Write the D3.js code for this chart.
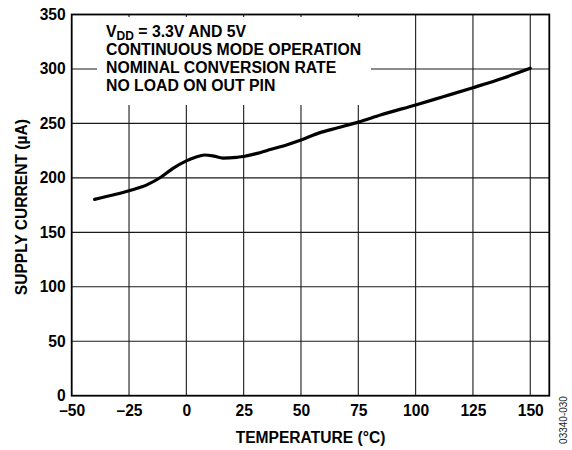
<!DOCTYPE html>
<html>
<head>
<meta charset="utf-8">
<script src="https://cdn.jsdelivr.net/npm/d3@7"></script>
<style>
  html, body { margin: 0; padding: 0; background: #fff; }
  svg { display: block; font-family: "Liberation Sans", Arial, sans-serif; }
</style>
</head>
<body>
<svg id="chart" width="572" height="450"></svg>
<script>
const temperatures = [-40, -32, -25, -17, -11, -6, 0, 4, 8, 12, 16, 22, 25, 30, 37, 44, 50, 58, 66, 75, 85, 100, 112, 125, 138, 150];
const supplyCurrent = [180.3, 184.3, 188.2, 193.8, 200.8, 208.5, 215.6, 219, 221, 220, 218.2, 218.9, 219.6, 222, 226.2, 230.5, 234.8, 241.3, 246, 251.2, 258, 266.9, 274.5, 282.8, 291.5, 300.6];
const xTickValues = [-50, -25, 0, 25, 50, 75, 100, 125, 150];
const yTickValues = [0, 50, 100, 150, 200, 250, 300, 350];
const annotationLines = ["CONTINUOUS MODE OPERATION", "NOMINAL CONVERSION RATE", "NO LOAD ON OUT PIN"];

(function () {
const svg = d3.select("#chart");
const pL = 71.7, pR = 549.3, pT = 14.5, pB = 395.7;
const x = d3.scaleLinear().domain([-50, 158.3]).range([pL, pR]);
const y = d3.scaleLinear().domain([0, 350]).range([pB, pT]);
const fs = 15.6;

svg.append("rect").attr("width", 572).attr("height", 450).attr("fill", "#fff");

// gridlines
const grid = svg.append("g").attr("stroke", "#1a1a1a").attr("stroke-width", 1.1);
grid.selectAll("line.v").data(xTickValues.filter(d => d > -50)).join("line").attr("class", "v")
  .attr("x1", d => x(d)).attr("x2", d => x(d)).attr("y1", pT).attr("y2", pB);
grid.selectAll("line.h").data(yTickValues.filter(d => d > 0 && d < 350)).join("line").attr("class", "h")
  .attr("y1", d => y(d)).attr("y2", d => y(d)).attr("x1", pL).attr("x2", pR);

// annotation background
svg.append("rect").attr("x", 97).attr("y", pT + 2.5).attr("width", 274).attr("height", 105 - pT - 2.5).attr("fill", "#fff");

// annotation text
const ann = svg.append("g").attr("font-weight", "bold").attr("font-size", 15.8).attr("fill", "#000");
const t1 = ann.append("text").attr("x", 106).attr("y", 37.3);
t1.append("tspan").text("V");
t1.append("tspan").attr("font-size", 12).attr("dy", 2.4).text("DD");
t1.append("tspan").attr("dy", -2.4).text(" = 3.3V AND 5V");
annotationLines.forEach((s, i) => {
  ann.append("text").attr("x", 106).attr("y", 55.4 + i * 17.7).text(s);
});

// curve
const line = d3.line().x((d, i) => x(temperatures[i])).y(d => y(d)).curve(d3.curveMonotoneX);
svg.append("path").datum(supplyCurrent).attr("d", line)
  .attr("fill", "none").attr("stroke", "#000").attr("stroke-width", 3.2)
  .attr("stroke-linejoin", "round").attr("stroke-linecap", "round");

// frame
svg.append("rect").attr("x", pL).attr("y", pT).attr("width", pR - pL).attr("height", pB - pT)
  .attr("fill", "none").attr("stroke", "#000").attr("stroke-width", 1.8);

// axes (labels only)
const xAxis = d3.axisBottom(x).tickValues(xTickValues).tickSize(0).tickPadding(9.5)
  .tickFormat(d => d < 0 ? "\u2013" + Math.abs(d) : String(d));
const gx = svg.append("g").attr("transform", `translate(0,${pB})`).call(xAxis);
gx.select(".domain").remove();
gx.selectAll("text").attr("font-size", fs).attr("font-weight", "bold").attr("fill", "#000")
  .attr("font-family", "Liberation Sans, Arial, sans-serif");

const yAxis = d3.axisLeft(y).tickValues(yTickValues).tickSize(0).tickPadding(6);
const gy = svg.append("g").attr("transform", `translate(${pL},0)`).call(yAxis);
gy.select(".domain").remove();
gy.selectAll("text").attr("font-size", fs).attr("font-weight", "bold").attr("fill", "#000")
  .attr("font-family", "Liberation Sans, Arial, sans-serif");

// axis titles
svg.append("text").attr("x", (pL + pR) / 2).attr("y", 443).attr("text-anchor", "middle")
  .attr("font-size", fs).attr("font-weight", "bold").text("TEMPERATURE (°C)");
svg.append("text").attr("transform", `translate(27.3,${(pT + pB) / 2 + 2}) rotate(-90)`)
  .attr("text-anchor", "middle").attr("font-size", fs).attr("font-weight", "bold").text("SUPPLY CURRENT (µA)");

// figure code
svg.append("text").attr("transform", "translate(567,420) rotate(-90)").attr("text-anchor", "middle")
  .attr("font-size", 10).attr("fill", "#222").text("03340-030");
})();
</script>
</body>
</html>
